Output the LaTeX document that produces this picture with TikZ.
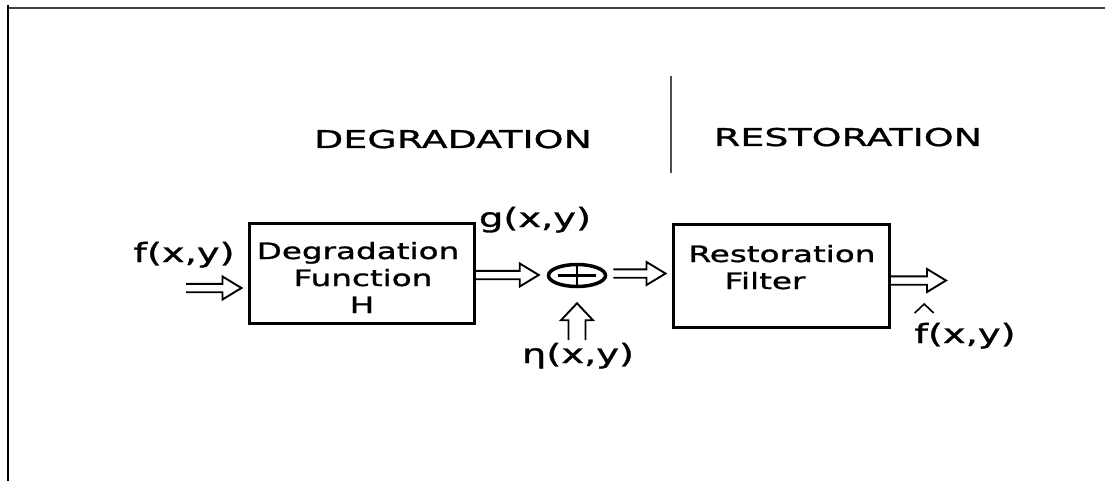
\documentclass[tikz,border=0pt]{standalone}
\usepackage{fontspec}
\usepackage{graphicx}
\setmainfont{DejaVu Sans}
\newfontfamily\headfont[FakeStretch=1.55,FakeBold=1.2]{DejaVu Sans}
\newfontfamily\boxfont[FakeStretch=1.45,FakeBold=1.2]{DejaVu Sans}
\newfontfamily\labfont[FakeStretch=1.45,FakeBold=1.2]{DejaVu Sans}
\usetikzlibrary{calc,shapes.geometric}
\begin{document}
\begin{tikzpicture}[x=1pt,y=-1pt,
  head/.style={font=\headfont\fontsize{24.5}{24.5}\selectfont, anchor=base, inner sep=0pt},
  btext/.style={font=\boxfont\fontsize{22.5}{22.5}\selectfont, anchor=base, inner sep=0pt},
  lab/.style={font=\labfont\fontsize{26.5}{26.5}\selectfont, anchor=base, inner sep=0pt},
  block/.style={draw, line width=3pt, rectangle, inner sep=0pt},
  frame/.style={line width=2.2pt},
  hollowR/.style={draw, line width=1.9pt, line join=miter,
    to path={let \p1=(\tikztostart), \p2=(\tikztotarget) in
      (\x1,\y1+4.2pt) -- (\x2-19pt,\y1+4.2pt) -- (\x2-19pt,\y1+11.5pt) -- (\x2,\y1)
      -- (\x2-19pt,\y1-11.5pt) -- (\x2-19pt,\y1-4.2pt) -- (\x1,\y1-4.2pt)}},
  hollowU/.style={draw, line width=1.9pt, line join=miter,
    to path={let \p1=(\tikztostart), \p2=(\tikztotarget) in
      (\x1-8.5pt,\y1) -- (\x1-8.5pt,\y2-17pt) -- (\x1-16pt,\y2-17pt) -- (\x1,\y2)
      -- (\x1+16pt,\y2-17pt) -- (\x1+8.5pt,\y2-17pt) -- (\x1+8.5pt,\y1)}}
]
\useasboundingbox (0,0) rectangle (1105,481);
\fill[white] (0,0) rectangle (1105,481);
% frame
\draw[frame, black!75] (8,8) -- (1105,8);
\draw[frame, black] (8,5) -- (8,481);
% divider
\draw[line width=1.6pt, black!70] (671,76) -- (671,173);

% headings
\node[head] (hdeg) at (453,148) {DEGRADATION};
\node[head] (hres) at (848,146) {RESTORATION};

% blocks
\node[block, minimum width=225pt, minimum height=100pt] (deg) at (361.5,273) {};
\node[block, minimum width=216pt, minimum height=103pt] (rest) at (781,275.5) {};
\node[draw, ellipse, line width=3.5pt, inner sep=0pt, minimum width=57pt, minimum height=22pt] (sum) at (577,275.5) {};
\draw[line width=2.8pt] ($(sum.center)+(-19,0)$) -- ($(sum.center)+(19,0)$);
\draw[line width=2.8pt] ($(sum.center)+(0,-9.5)$) -- ($(sum.center)+(0,9.5)$);

% block texts
\node[btext] (t1) at (358,259) {Degradation};
\node[btext] (t2) at (363,286) {Function};
\node[btext] (t3) at (362,313) {H};
\node[btext] (t4) at (782,262) {Restoration};
\node[btext] (t5) at (765,289) {Filter};

% labels
\node[lab] (lf) at (184,262) {f(x,y)};
\node[lab] (lg) at (535,227) {g(x,y)};
\node[lab] (ln) at (578,363) {η(x,y)};
\node[lab] (lfh) at (965,343) {f(x,y)};
\draw[line width=1.6pt, line join=miter]
  ($(lfh.base west)+(0.5,-30)$) -- ($(lfh.base west)+(10,-39)$) -- ($(lfh.base west)+(19.5,-30)$);

% connector end points
\coordinate (fin) at (186,288);
\coordinate (a1) at ($(deg.west)+(-6,15)$);
\coordinate (b0) at ($(deg.east)+(0,2)$);
\coordinate (b1) at ($(sum.west)+(-8,0)$);
\coordinate (c0) at ($(sum.east)+(6,-2)$);
\coordinate (c1) at ($(rest.west)+(-6,0)$);
\coordinate (d0) at ($(rest.east)+(0,5)$);
\coordinate (fout) at (946,280);
\coordinate (nb) at (577,340);
\coordinate (n1) at ($(sum.south)+(0,15)$);

% arrows
\draw[hollowR] (fin) to (a1);
\draw[hollowR] (b0) to (b1);
\draw[hollowR] (c0) to (c1);
\draw[hollowR] (d0) to (fout);
\draw[hollowU] (nb) to (n1);
\end{tikzpicture}
\end{document}
